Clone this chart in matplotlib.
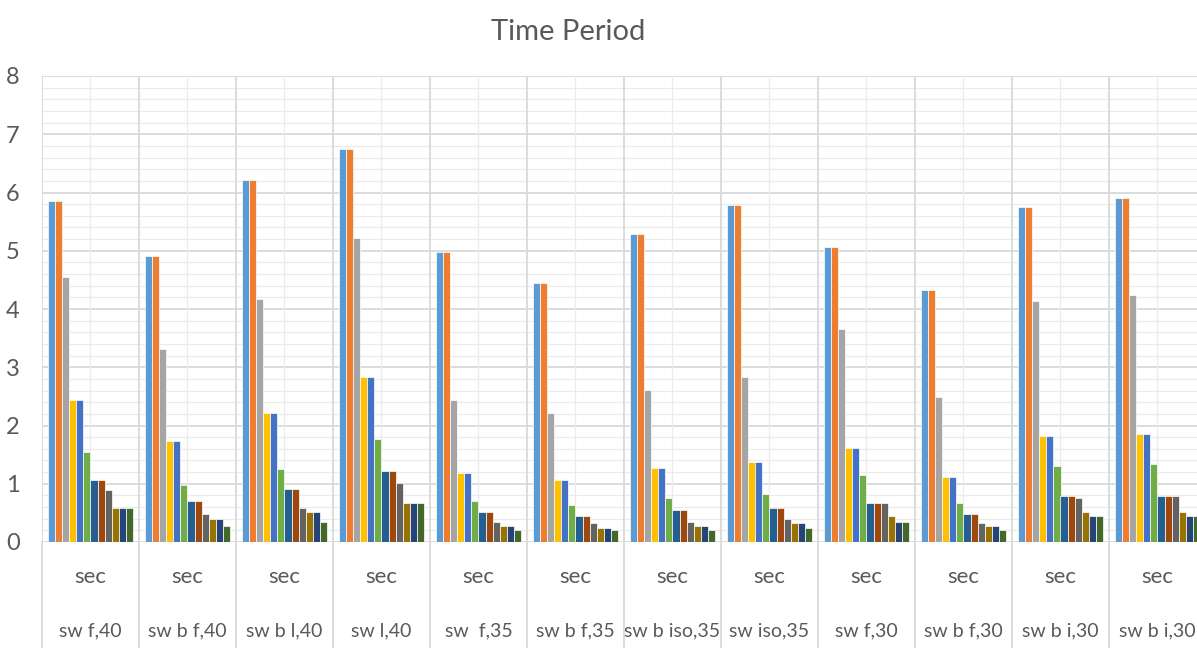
import matplotlib
matplotlib.use("Agg")
import matplotlib.pyplot as plt
import matplotlib.transforms as mtransforms
import numpy as np

plt.rcParams['font.family'] = ['Lato', 'DejaVu Sans']

groups = ["sw f,40", "sw b f,40", "sw b l,40", "sw l,40", "sw  f,35", "sw b f,35",
          "sw b iso,35", "sw iso,35", "sw f,30", "sw b f,30", "sw b i,30", "sw b i,30"]
unit_label = "sec"

# Period of each mode (sec) for every model
mode_1 = [5.86, 4.91, 6.22, 6.74, 4.97, 4.44, 5.28, 5.78, 5.07, 4.33, 5.75, 5.91]
mode_2 = [5.86, 4.91, 6.22, 6.74, 4.97, 4.44, 5.28, 5.78, 5.07, 4.33, 5.75, 5.91]
mode_3 = [4.55, 3.31, 4.17, 5.22, 2.44, 2.21, 2.61, 2.84, 3.65, 2.49, 4.13, 4.24]
mode_4 = [2.44, 1.74, 2.21, 2.84, 1.18, 1.07, 1.27, 1.38, 1.62, 1.11, 1.82, 1.85]
mode_5 = [2.44, 1.74, 2.21, 2.84, 1.18, 1.07, 1.27, 1.38, 1.62, 1.11, 1.82, 1.85]
mode_6 = [1.54, 0.98, 1.26, 1.77, 0.71, 0.64, 0.75, 0.83, 1.15, 0.67, 1.30, 1.34]
mode_7 = [1.06, 0.71, 0.91, 1.22, 0.51, 0.44, 0.55, 0.59, 0.67, 0.48, 0.79, 0.79]
mode_8 = [1.06, 0.71, 0.91, 1.22, 0.51, 0.44, 0.55, 0.59, 0.67, 0.48, 0.79, 0.79]
mode_9 = [0.90, 0.48, 0.59, 1.02, 0.35, 0.33, 0.35, 0.39, 0.67, 0.33, 0.75, 0.79]
mode_10 = [0.58, 0.40, 0.51, 0.67, 0.28, 0.24, 0.28, 0.33, 0.44, 0.28, 0.51, 0.51]
mode_11 = [0.58, 0.40, 0.51, 0.67, 0.28, 0.24, 0.28, 0.33, 0.35, 0.28, 0.44, 0.44]
mode_12 = [0.58, 0.28, 0.35, 0.67, 0.20, 0.20, 0.20, 0.24, 0.35, 0.20, 0.44, 0.44]

modes = [mode_1, mode_2, mode_3, mode_4, mode_5, mode_6,
         mode_7, mode_8, mode_9, mode_10, mode_11, mode_12]
colors = ["#5B9BD5", "#ED7D31", "#A5A5A5", "#FFC000", "#4472C4", "#70AD47",
          "#255E91", "#9E480E", "#636363", "#997300", "#264478", "#43682B"]

W, H = 1197, 648
fig = plt.figure(figsize=(W / 100, H / 100), dpi=100)
left_px, top_px, bottom_px = 42, 76, 542
group_px = 97.0
ax = fig.add_axes([left_px / W, 1 - bottom_px / H,
                   group_px * len(groups) / W, (bottom_px - top_px) / H])

n = len(groups)
x = np.arange(n) + 0.5
bw = 0.0722
for j, (vals, c) in enumerate(zip(modes, colors)):
    ax.bar(x + (j - 5.5) * bw, vals, width=bw, color=c,
           edgecolor="white", linewidth=0.5, zorder=3)

ax.set_xlim(0, n)
ax.set_ylim(0, 8)

# horizontal grid
for v in np.arange(0, 8.01, 0.2):
    major = abs(v - round(v)) < 1e-6
    ax.axhline(v, color="#d9d9d9" if major else "#ebebeb",
               lw=1.3 if major else 0.9, zorder=1)
# vertical lines: category boundaries and mid-lines
for i in range(n + 1):
    ax.axvline(i, color="#d9d9d9", lw=1.3, zorder=1)
for i in range(n):
    ax.axvline(i + 0.5, color="#ebebeb", lw=0.9, zorder=1)

for s in ax.spines.values():
    s.set_visible(False)

ax.set_yticks(range(0, 9))
ax.set_yticklabels([str(v) for v in range(0, 9)])
ax.tick_params(axis="y", length=0, pad=16, labelsize=17, labelcolor="#595959")
ax.set_xticks([])

# multi-level category axis below the plot
trans = mtransforms.blended_transform_factory(ax.transData, ax.transAxes)
ext = (H - bottom_px) / (bottom_px - top_px)
for i in range(n + 1):
    ax.plot([i, i], [0, -ext], color="#d9d9d9", lw=1.3, transform=trans,
            clip_on=False, zorder=1)
y_sec = -(577 - bottom_px) / (bottom_px - top_px)
y_grp = -(631 - bottom_px) / (bottom_px - top_px)
for i, g in enumerate(groups):
    ax.text(i + 0.5, y_sec, unit_label, transform=trans, ha="center", va="center",
            fontsize=16, color="#595959")
    ax.text(i + 0.5, y_grp, g, transform=trans, ha="center", va="center",
            fontsize=14, color="#595959")

fig.text(568 / W, 1 - 32 / H, "Time Period", ha="center", va="center",
         fontsize=21, color="#595959")

fig.savefig("out.png", dpi=100)
